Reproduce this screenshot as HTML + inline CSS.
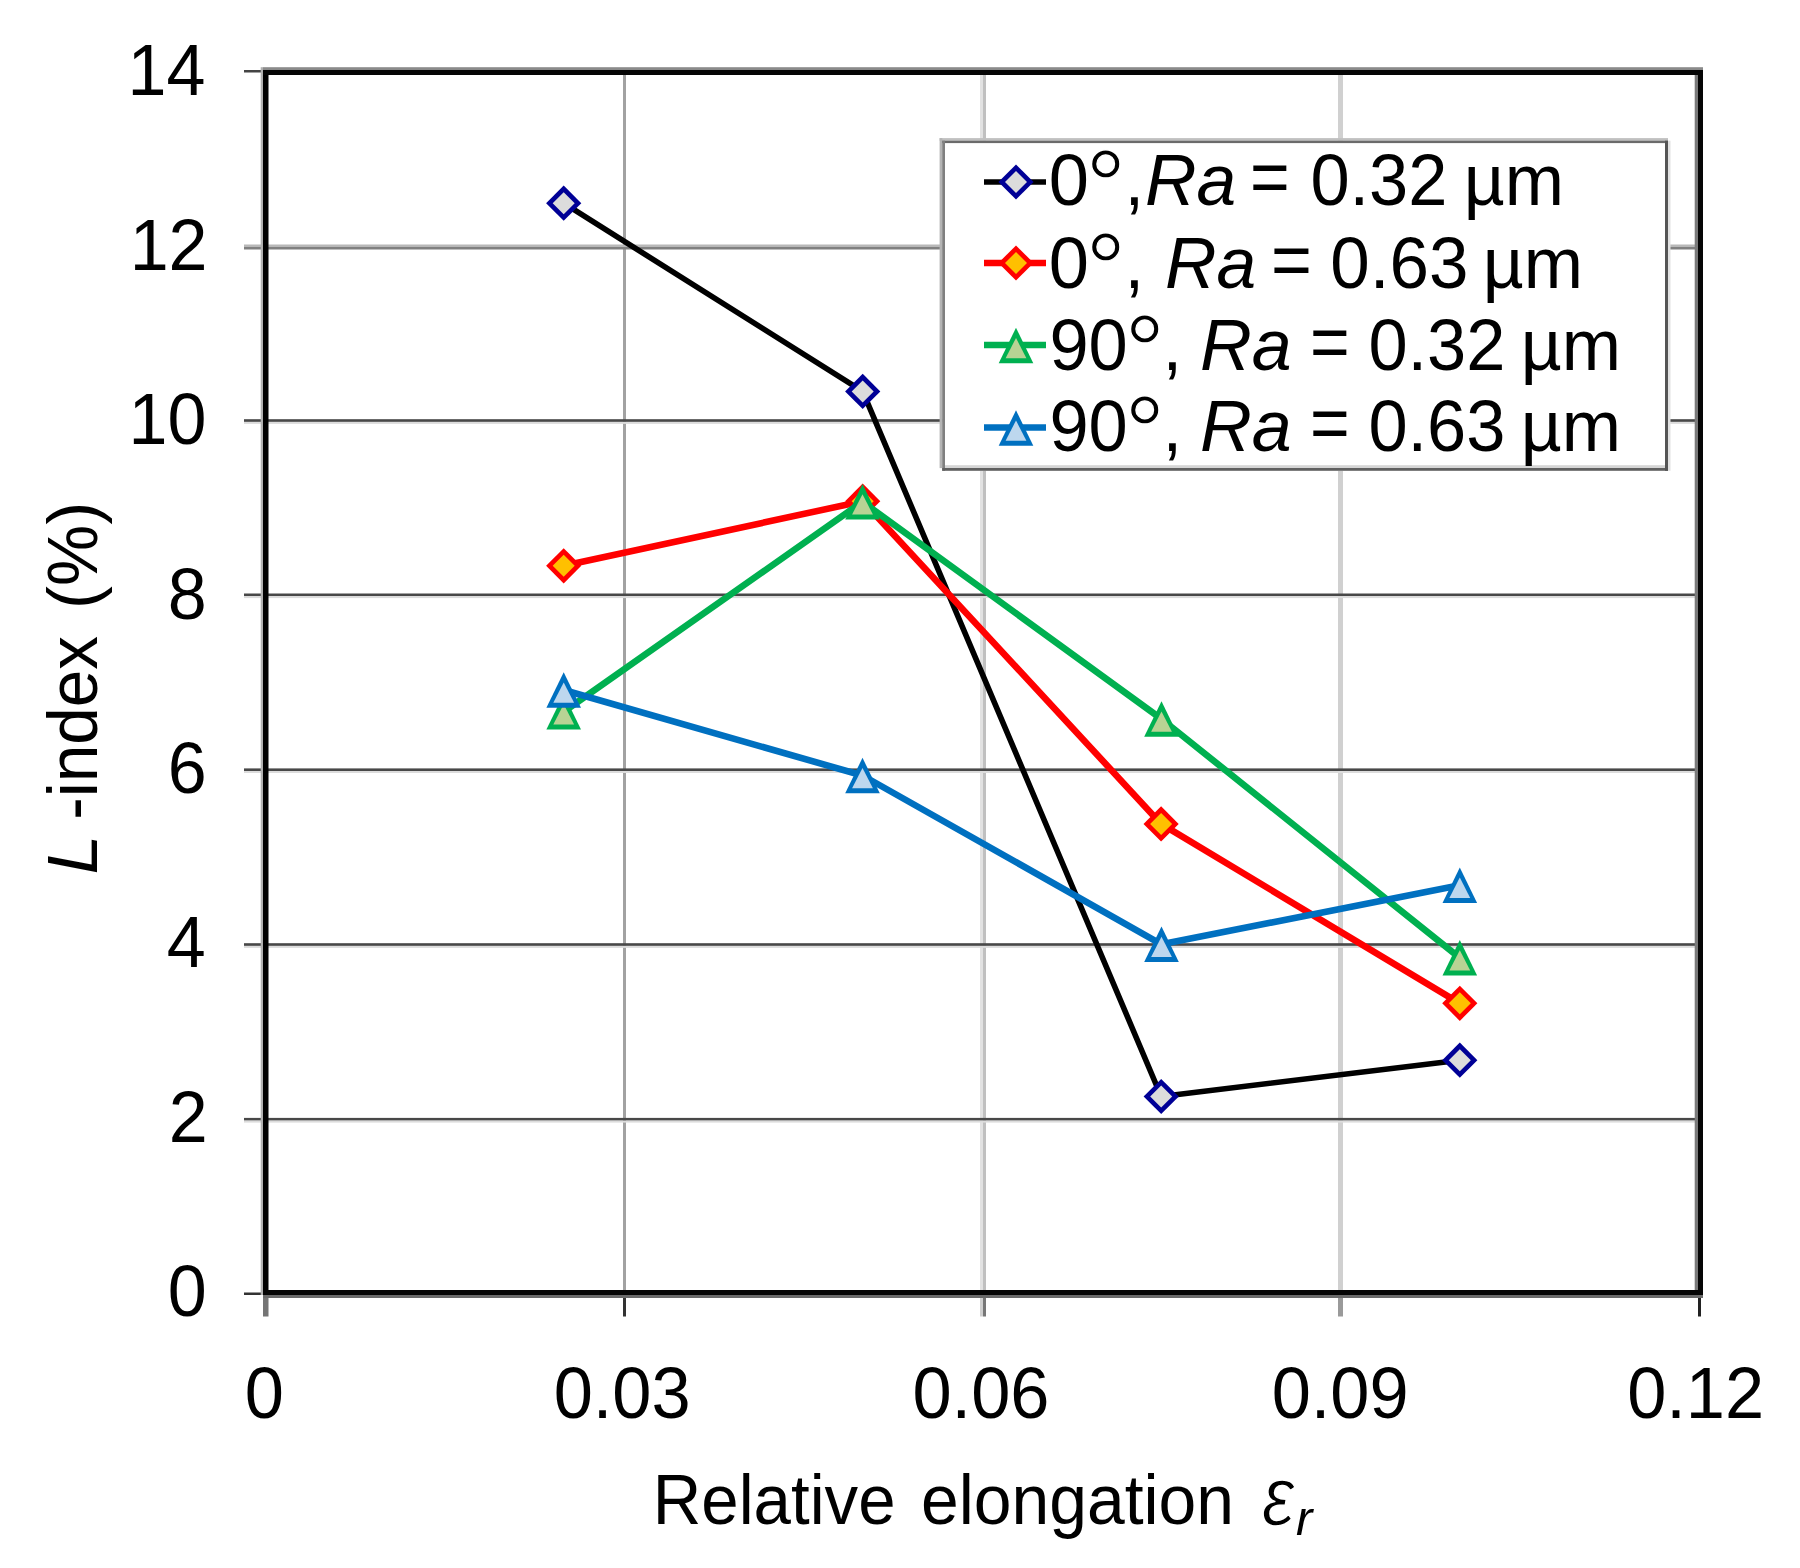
<!DOCTYPE html>
<html lang="en"><head><meta charset="utf-8"><title>L-index vs relative elongation</title>
<style>
html,body{margin:0;padding:0;background:#fff;}
body{width:1800px;height:1568px;overflow:hidden;}
svg{display:block;}
text{font-family:"Liberation Sans",Arial,Helvetica,sans-serif;fill:#000;}
.i{font-style:italic;}
</style></head><body>
<svg width="1800" height="1568" viewBox="0 0 1800 1568">
<rect x="0" y="0" width="1800" height="1568" fill="#ffffff"/>
<g>
<g id="vgrid">
<rect x="623" y="70" width="3" height="1225" fill="#a2a2a2"/>
<rect x="980" y="70" width="3" height="1225" fill="#e2e2e2"/>
<rect x="983" y="70" width="3" height="1225" fill="#c0c0c0"/>
<rect x="1338" y="70" width="5" height="1225" fill="#d0d0d0"/>
</g>
<g id="hgrid">
<rect x="244" y="244.5" width="1454" height="2.5" fill="#b8b8b8"/>
<rect x="244" y="247" width="1454" height="2.5" fill="#808080"/>
<rect x="244" y="419.2" width="1454" height="2.7" fill="#484848"/>
<rect x="244" y="421.9" width="1454" height="2" fill="#dcdcdc"/>
<rect x="244" y="593.5" width="1454" height="2.7" fill="#484848"/>
<rect x="244" y="596.1" width="1454" height="2" fill="#dcdcdc"/>
<rect x="244" y="768.4" width="1454" height="2.7" fill="#484848"/>
<rect x="244" y="771.0" width="1454" height="2" fill="#dcdcdc"/>
<rect x="244" y="943.2" width="1454" height="2.7" fill="#484848"/>
<rect x="244" y="945.9" width="1454" height="2" fill="#dcdcdc"/>
<rect x="244" y="1117.9" width="1454" height="2.7" fill="#484848"/>
<rect x="244" y="1120.6" width="1454" height="2" fill="#dcdcdc"/>
</g>
<g id="xticks">
<rect x="263" y="1295" width="5.5" height="21.5" fill="#757575"/>
<rect x="623" y="1295" width="3" height="21.5" fill="#333333"/>
<rect x="980" y="1295" width="3" height="21.5" fill="#cfcfcf"/>
<rect x="983" y="1295" width="3" height="21.5" fill="#777777"/>
<rect x="1338" y="1295" width="5" height="21.5" fill="#9a9a9a"/>
<rect x="1698" y="1295" width="3" height="21.5" fill="#222222"/>
</g>
<rect x="244" y="70" width="20" height="2.5" fill="#444444"/>
<rect x="244" y="1292.5" width="20" height="2.5" fill="#333333"/>
<g id="border">
<rect x="260.7" y="67.2" width="2.5" height="1227.8" fill="#b0b0b0"/>
<rect x="263" y="67.2" width="1440" height="2.9" fill="#8a8a8a"/>
<rect x="1694.7" y="70" width="3.4" height="1225" fill="#7a7a7a"/>
<rect x="263" y="1295" width="1440" height="3" fill="#6a6a6a"/>
<rect x="263" y="70" width="5.5" height="1225" fill="#000"/>
<rect x="263" y="70" width="1440" height="5" fill="#050505"/>
<rect x="1698" y="70" width="5" height="1225" fill="#050505"/>
<rect x="263" y="1290" width="1440" height="5" fill="#050505"/>
</g>
</g>
<g id="series">
<polyline points="563.7,203.2 862.7,391.4 1161.2,1096.5 1459.8,1060.2" fill="none" stroke="#000000" stroke-width="5.6" stroke-linejoin="round"/>
<polygon points="563.7,185.6 581.3,203.2 563.7,220.8 546.1,203.2" fill="#000096"/><polygon points="563.7,192.2 574.7,203.2 563.7,214.2 552.7,203.2" fill="#dcdcdc"/>
<polygon points="862.7,373.8 880.3,391.4 862.7,409.0 845.1,391.4" fill="#000096"/><polygon points="862.7,380.4 873.7,391.4 862.7,402.4 851.7,391.4" fill="#dcdcdc"/>
<polygon points="1161.2,1078.9 1178.8,1096.5 1161.2,1114.1 1143.6,1096.5" fill="#000096"/><polygon points="1161.2,1085.5 1172.2,1096.5 1161.2,1107.5 1150.2,1096.5" fill="#dcdcdc"/>
<polygon points="1459.8,1042.6 1477.4,1060.2 1459.8,1077.8 1442.2,1060.2" fill="#000096"/><polygon points="1459.8,1049.2 1470.8,1060.2 1459.8,1071.2 1448.8,1060.2" fill="#dcdcdc"/>
<polyline points="563.7,565.8 862.7,501.2 1161.1,823.9 1459.8,1003.3" fill="none" stroke="#ff0000" stroke-width="6.6" stroke-linejoin="round"/>
<polygon points="563.7,548.2 581.3,565.8 563.7,583.4 546.1,565.8" fill="#ff0000"/><polygon points="563.7,554.8 574.7,565.8 563.7,576.8 552.7,565.8" fill="#ffc000"/>
<polygon points="862.7,483.6 880.3,501.2 862.7,518.8 845.1,501.2" fill="#ff0000"/><polygon points="862.7,490.2 873.7,501.2 862.7,512.2 851.7,501.2" fill="#ffc000"/>
<polygon points="1161.1,806.3 1178.7,823.9 1161.1,841.5 1143.5,823.9" fill="#ff0000"/><polygon points="1161.1,812.9 1172.1,823.9 1161.1,834.9 1150.1,823.9" fill="#ffc000"/>
<polygon points="1459.8,985.7 1477.4,1003.3 1459.8,1020.9 1442.2,1003.3" fill="#ff0000"/><polygon points="1459.8,992.3 1470.8,1003.3 1459.8,1014.3 1448.8,1003.3" fill="#ffc000"/>
<polyline points="563.7,711.8 862.5,501.8 1161.5,719.0 1459.8,957.8" fill="none" stroke="#00b050" stroke-width="6.6" stroke-linejoin="round"/>
<polygon points="563.7,694.0 581.0,729.5 546.4,729.5" fill="#00b050"/><polygon points="563.7,704.2 574.1,724.6 553.3,724.6" fill="#b8d394"/>
<polygon points="862.5,484.1 879.8,519.5 845.2,519.5" fill="#00b050"/><polygon points="862.5,494.2 872.9,514.6 852.1,514.6" fill="#b8d394"/>
<polygon points="1161.5,701.2 1178.8,736.8 1144.2,736.8" fill="#00b050"/><polygon points="1161.5,711.4 1171.9,731.8 1151.1,731.8" fill="#b8d394"/>
<polygon points="1459.8,940.0 1477.1,975.5 1442.5,975.5" fill="#00b050"/><polygon points="1459.8,950.2 1470.2,970.6 1449.4,970.6" fill="#b8d394"/>
<polyline points="563.7,690.0 862.5,775.5 1161.5,944.3 1459.8,885.2" fill="none" stroke="#0070c0" stroke-width="6.6" stroke-linejoin="round"/>
<polygon points="563.7,672.2 581.0,707.8 546.4,707.8" fill="#0070c0"/><polygon points="563.7,682.4 574.1,702.8 553.3,702.8" fill="#bdd7ee"/>
<polygon points="862.5,757.8 879.8,793.2 845.2,793.2" fill="#0070c0"/><polygon points="862.5,767.9 872.9,788.3 852.1,788.3" fill="#bdd7ee"/>
<polygon points="1161.5,926.5 1178.8,962.0 1144.2,962.0" fill="#0070c0"/><polygon points="1161.5,936.7 1171.9,957.1 1151.1,957.1" fill="#bdd7ee"/>
<polygon points="1459.8,867.5 1477.1,903.0 1442.5,903.0" fill="#0070c0"/><polygon points="1459.8,877.6 1470.2,898.0 1449.4,898.0" fill="#bdd7ee"/>
</g>
<g id="legend">
<rect x="942.2" y="140.7" width="725.8" height="330.1" fill="#ffffff"/>
<rect x="939.6" y="138.1" width="728.4" height="2.7" fill="#c0c0c0"/>
<rect x="939.6" y="138.1" width="2.7" height="330" fill="#b4b4b4"/>
<rect x="945" y="465.2" width="720" height="2.9" fill="#d5d5d5"/>
<rect x="1668" y="140.7" width="2.5" height="330.1" fill="#e2e2e2"/>
<rect x="942.2" y="140.7" width="725.8" height="2.4" fill="#6a6a6a"/>
<rect x="942.2" y="140.7" width="2.8" height="330.1" fill="#808080"/>
<rect x="942.2" y="468" width="725.8" height="2.8" fill="#606060"/>
<rect x="1665" y="140.7" width="3" height="330.1" fill="#555555"/>
<line x1="984" y1="182.0" x2="1046" y2="182.0" stroke="#000000" stroke-width="5.6"/>
<polygon points="1016.0,164.4 1033.6,182.0 1016.0,199.6 998.4,182.0" fill="#000096"/><polygon points="1016.0,171.0 1027.0,182.0 1016.0,193.0 1005.0,182.0" fill="#dcdcdc"/>
<text transform="translate(1048.81,204.80) scale(1.0625,1.0500)" font-size="68">0</text>
<text x="1085.39" y="221.14" font-size="101.28" stroke="#fff" stroke-width="1.3">°</text>
<text transform="translate(1124.62,204.80) scale(1.0400,1.0500)" font-size="68">,</text>
<text transform="translate(1144.90,204.80) scale(1.0488,1.0500)" font-size="68" class="i">Ra</text>
<text transform="translate(1250.00,203.30) scale(1.0000,1.1200)" font-size="68">=</text>
<text transform="translate(1310.39,204.80) scale(1.0357,1.0500)" font-size="68">0.32</text>
<text transform="translate(1463.77,204.80) scale(1.0465,1.0500)" font-size="68">µm</text>
<line x1="984" y1="263.0" x2="1046" y2="263.0" stroke="#ff0000" stroke-width="6.6"/>
<polygon points="1016.0,245.4 1033.6,263.0 1016.0,280.6 998.4,263.0" fill="#ff0000"/><polygon points="1016.0,252.0 1027.0,263.0 1016.0,274.0 1005.0,263.0" fill="#ffc000"/>
<text transform="translate(1048.81,287.50) scale(1.0625,1.0500)" font-size="68">0</text>
<text x="1085.39" y="303.84" font-size="101.28" stroke="#fff" stroke-width="1.3">°</text>
<text transform="translate(1124.62,287.50) scale(1.0400,1.0500)" font-size="68">,</text>
<text transform="translate(1164.90,287.50) scale(1.0488,1.0500)" font-size="68" class="i">Ra</text>
<text transform="translate(1270.91,286.00) scale(1.0303,1.1200)" font-size="68">=</text>
<text transform="translate(1330.37,287.50) scale(1.0437,1.0500)" font-size="68">0.63</text>
<text transform="translate(1482.77,287.50) scale(1.0465,1.0500)" font-size="68">µm</text>
<line x1="984" y1="345.0" x2="1046" y2="345.0" stroke="#00b050" stroke-width="6.6"/>
<polygon points="1016.0,327.8 1033.3,363.2 998.7,363.2" fill="#00b050"/><polygon points="1016.0,337.9 1026.4,358.3 1005.6,358.3" fill="#b8d394"/>
<text transform="translate(1049.39,369.50) scale(1.0357,1.0500)" font-size="68">90</text>
<text x="1124.39" y="385.84" font-size="101.28" stroke="#fff" stroke-width="1.3">°</text>
<text transform="translate(1162.62,369.50) scale(1.0400,1.0500)" font-size="68">,</text>
<text transform="translate(1199.89,369.50) scale(1.0549,1.0500)" font-size="68" class="i">Ra</text>
<text transform="translate(1310.00,368.00) scale(1.0000,1.1200)" font-size="68">=</text>
<text transform="translate(1368.39,369.50) scale(1.0357,1.0500)" font-size="68">0.32</text>
<text transform="translate(1520.77,369.50) scale(1.0465,1.0500)" font-size="68">µm</text>
<line x1="984" y1="427.5" x2="1046" y2="427.5" stroke="#0070c0" stroke-width="6.6"/>
<polygon points="1016.0,410.2 1033.3,445.8 998.7,445.8" fill="#0070c0"/><polygon points="1016.0,420.4 1026.4,440.8 1005.6,440.8" fill="#bdd7ee"/>
<text transform="translate(1049.39,450.80) scale(1.0357,1.0500)" font-size="68">90</text>
<text x="1124.39" y="467.14" font-size="101.28" stroke="#fff" stroke-width="1.3">°</text>
<text transform="translate(1162.62,450.80) scale(1.0400,1.0500)" font-size="68">,</text>
<text transform="translate(1199.89,450.80) scale(1.0549,1.0500)" font-size="68" class="i">Ra</text>
<text transform="translate(1310.00,449.30) scale(1.0000,1.1200)" font-size="68">=</text>
<text transform="translate(1368.39,450.80) scale(1.0357,1.0500)" font-size="68">0.63</text>
<text transform="translate(1520.77,450.80) scale(1.0465,1.0500)" font-size="68">µm</text>
</g>
<g id="ylabels">
<text transform="translate(127.58,94.50) scale(1.0300,1.0500)" font-size="68">14</text>
<text transform="translate(129.64,269.80) scale(1.0300,1.0500)" font-size="68">12</text>
<text transform="translate(128.61,444.20) scale(1.0300,1.0500)" font-size="68">10</text>
<text transform="translate(167.75,618.60) scale(1.0300,1.0500)" font-size="68">8</text>
<text transform="translate(167.75,793.00) scale(1.0300,1.0500)" font-size="68">6</text>
<text transform="translate(166.72,967.40) scale(1.0300,1.0500)" font-size="68">4</text>
<text transform="translate(168.78,1141.80) scale(1.0300,1.0500)" font-size="68">2</text>
<text transform="translate(167.75,1316.20) scale(1.0300,1.0500)" font-size="68">0</text>
</g>
<g id="xlabels">
<text transform="translate(244.64,1417.80) scale(1.0350,1.0500)" font-size="68">0</text>
<text transform="translate(553.69,1417.80) scale(1.0350,1.0500)" font-size="68">0.03</text>
<text transform="translate(912.49,1417.80) scale(1.0350,1.0500)" font-size="68">0.06</text>
<text transform="translate(1271.69,1417.80) scale(1.0350,1.0500)" font-size="68">0.09</text>
<text transform="translate(1627.19,1417.80) scale(1.0350,1.0500)" font-size="68">0.12</text>
</g>
<g id="titles">
<text transform="translate(652.77,1524.00) scale(0.9886,1.0450)" font-size="68">Relative</text>
<text transform="translate(920.91,1524.00) scale(0.9980,1.0450)" font-size="68">elongation</text>
<text transform="translate(1262.12,1524.50) scale(1.0793,1.2222)" font-size="68" class="i" stroke="#fff" stroke-width="1.2">ε</text>
<text transform="translate(1295.98,1535.00) scale(0.7208,0.7028)" font-size="68" class="i">r</text>
<text transform="translate(97.20,874.60) rotate(-90) scale(1.0484,1.0450)" font-size="68" class="i">L</text>
<text transform="translate(97.20,819.68) rotate(-90) scale(0.9923,1.0450)" font-size="68">-index</text>
<text transform="translate(97.20,608.95) rotate(-90) scale(1.0124,1.0450)" font-size="68">(%)</text>
</g>
</svg>
</body></html>
